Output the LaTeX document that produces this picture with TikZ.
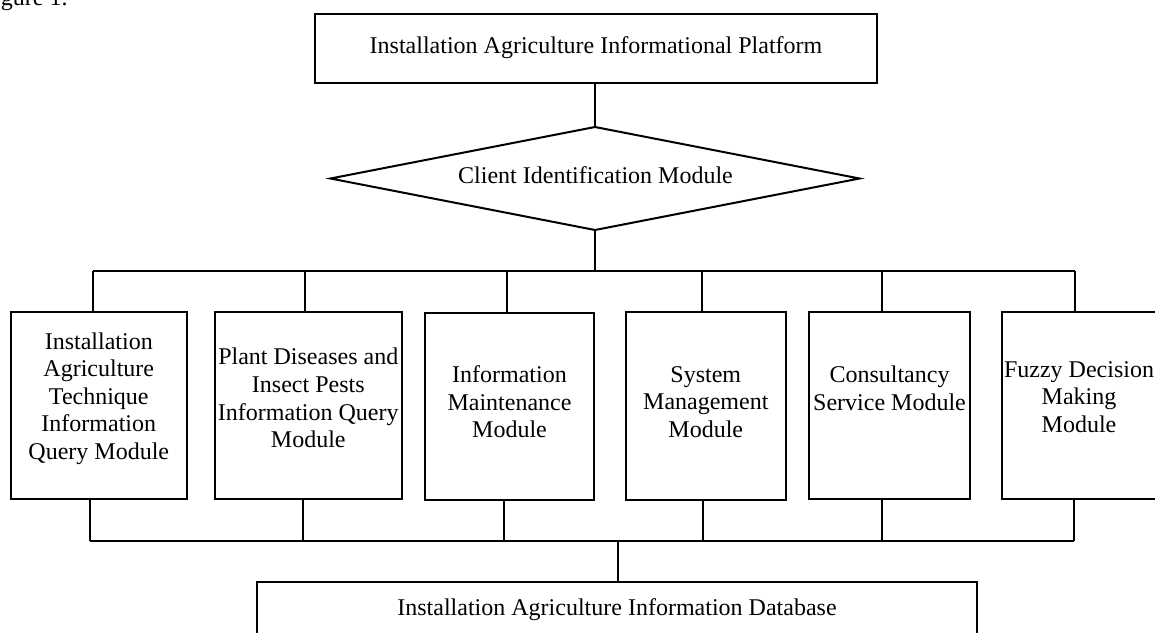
\documentclass[tikz,border=0pt]{standalone}
\usepackage{fontspec}
\setmainfont{Liberation Serif}
\usetikzlibrary{shapes.geometric}
\begin{document}
\begin{tikzpicture}[x=0.5pt,y=-0.5pt,line width=1pt,
  every node/.style={font=\fontsize{12}{13.8}\selectfont},
  box/.style={draw,rectangle,inner sep=0pt,outer sep=0pt},
  txt/.style={align=center,inner sep=0pt},
  link/.style={line width=1pt}]
\useasboundingbox (0,0) rectangle (1155,632);

\node[anchor=base west,inner sep=0pt] (fig) at (0,5) {gure 1.};

% top box
\node[box,minimum width=281pt,minimum height=34.5pt] (top) at (596,48.5) {};
\node[txt] (toptxt) at (596,47.5) {Installation Agriculture Informational Platform};

% diamond
\node[draw,diamond,aspect=5.14,inner sep=0pt,outer sep=0pt,
      minimum width=264.5pt,minimum height=51.5pt] (cim) at (595,178.5) {};
\node[txt] (cimtxt) at (595.5,175) {Client Identification Module};

\draw[link] (top.south -| cim.north) -- (cim.north);

% top bus
\coordinate (busT) at (594,271);
\coordinate (d1) at (93,271);
\coordinate (d2) at (305,271);
\coordinate (d3) at (507,271);
\coordinate (d4) at (702,271);
\coordinate (d5) at (882,271);
\coordinate (d6) at (1075,271);
\draw[link] (cim.south) -- (cim.south |- busT);
\draw[link] (d1) -- (d6);

% module boxes
\node[box,minimum width=87.85pt,minimum height=93.5pt] (m1) at (98.8,405.5) {};
\node[box,minimum width=93.35pt,minimum height=93.5pt] (m2) at (308.3,405.5) {};
\node[box,minimum width=84.5pt,minimum height=93.5pt] (m3) at (509.5,406) {};
\node[box,minimum width=80.15pt,minimum height=94pt] (m4) at (705.8,406) {};
\node[box,minimum width=80.5pt,minimum height=93.5pt] (m5) at (889.5,405.5) {};
\node[box,minimum width=77.5pt,minimum height=93.5pt] (m6) at (1079.5,405.5) {};

\node[txt] (t1) at (98.8,398.5) {Installation\\Agriculture\\Technique\\Information\\Query Module};
\node[txt] (t2) at (308.3,398) {Plant Diseases and\\Insect Pests\\Information Query\\Module};
\node[txt] (t3) at (509.5,402) {Information\\Maintenance\\Module};
\node[txt] (t4) at (705.8,402) {System\\Management\\Module};
\node[txt] (t5) at (889.5,388.5) {Consultancy\\Service Module};
\node[txt] (t6) at (1079,397) {Fuzzy Decision\\Making\\Module};

\foreach \i in {1,...,6} {
  \draw[link] (d\i) -- (d\i |- m\i.north);
}

% bottom bus
\coordinate (e1) at (90,541);
\coordinate (e2) at (303,541);
\coordinate (e3) at (504,541);
\coordinate (e4) at (703,541);
\coordinate (e5) at (882,541);
\coordinate (e6) at (1074,541);
\foreach \i in {1,...,6} {
  \draw[link] (e\i |- m\i.south) -- (e\i);
}
\draw[link] (e1) -- (e6);

% database
\node[box,minimum width=360pt,minimum height=34pt] (db) at (617,616) {};
\node[txt] (dbtxt) at (617,609.5) {Installation Agriculture Information Database};
\coordinate (f) at (618,541);
\draw[link] (f) -- (f |- db.north);
\end{tikzpicture}
\end{document}
